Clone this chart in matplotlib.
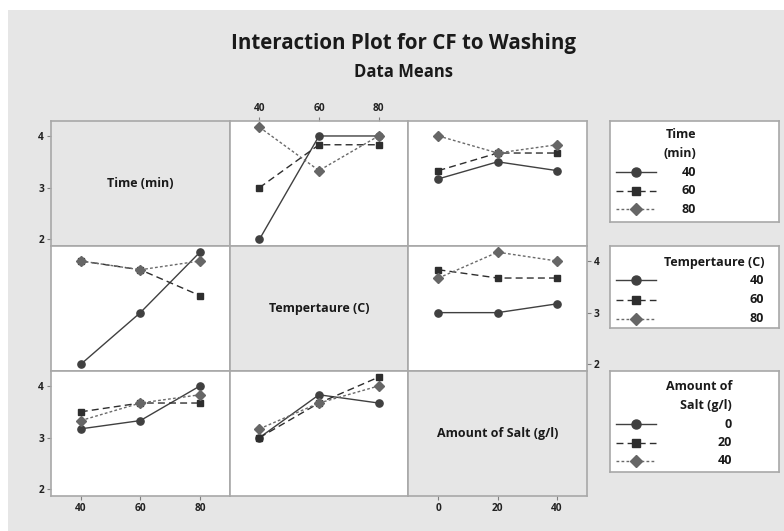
import matplotlib
matplotlib.use("Agg")
import matplotlib.pyplot as plt
from matplotlib.patches import Rectangle
from matplotlib.lines import Line2D

plt.rcParams['font.family'] = ['Open Sans', 'DejaVu Sans']

# ---------------- data ----------------
factors = ["Time (min)", "Tempertaure (C)", "Amount of Salt (g/l)"]
legend_titles = ["Time\n(min)", "Tempertaure (C)", "Amount of\nSalt (g/l)"]
time_levels = [40, 60, 80]
temp_levels = [40, 60, 80]
salt_levels = [0, 20, 40]

# x = Temperature, lines = Time
temp_by_time = [[2.0, 4.0, 4.0], [3.0, 3.83, 3.83], [4.17, 3.33, 4.0]]
# x = Salt, lines = Time
salt_by_time = [[3.17, 3.5, 3.33], [3.33, 3.67, 3.67], [4.0, 3.67, 3.83]]
# x = Time, lines = Temperature
time_by_temp = [[2.0, 3.0, 4.17], [4.0, 3.83, 3.33], [4.0, 3.83, 4.0]]
# x = Salt, lines = Temperature
salt_by_temp = [[3.0, 3.0, 3.17], [3.83, 3.67, 3.67], [3.67, 4.17, 4.0]]
# x = Time, lines = Salt
time_by_salt = [[3.17, 3.33, 4.0], [3.5, 3.67, 3.67], [3.33, 3.67, 3.83]]
# x = Temperature, lines = Salt
temp_by_salt = [[3.0, 3.83, 3.67], [3.0, 3.67, 4.17], [3.17, 3.67, 4.0]]

levels = [time_levels, temp_levels, salt_levels]
panels = {(0, 1): temp_by_time, (0, 2): salt_by_time,
          (1, 0): time_by_temp, (1, 2): salt_by_temp,
          (2, 0): time_by_salt, (2, 1): temp_by_salt}
y_ticks = [2, 3, 4]

# ---------------- styles ----------------
W, H = 784, 531
BG = '#e6e6e6'
EDGE = '#a8a8a8'
TXT = '#1a1a1a'
LBL_FS = 9.0
styles = [
    dict(color='#404040', ls='-', marker='o', ms=5.2, mfc='#404040', mec='#404040', lw=1.0),
    dict(color='#2e2e2e', ls=(0, (5, 3)), marker='s', ms=4.6, mfc='#2e2e2e', mec='#2e2e2e', lw=1.0),
    dict(color='#6a6a6a', ls=(0, (2, 1.6)), marker='D', ms=4.6, mfc='#666666', mec='#666666', lw=1.0),
]

fig = plt.figure(figsize=(W / 100, H / 100), dpi=100)
fig.patch.set_facecolor('white')
fig.add_artist(Rectangle((8 / W, 0), (W - 8) / W, (H - 10) / H,
                         transform=fig.transFigure, facecolor=BG,
                         edgecolor='none', zorder=0))


def px_axes(x0, y0, x1, y1):
    return fig.add_axes([x0 / W, 1 - y1 / H, (x1 - x0) / W, (y1 - y0) / H])


xe = [51, 229.7, 408.3, 587]
ye = [121, 246, 371, 496]
xlims = [(30, 90), (30, 90), (-10.2, 50.2)]
ylim = (1.87, 4.29)

tick_kw = dict(length=3, width=0.8, color='#808080', labelsize=7.3,
               labelcolor='#222222', pad=2)

for i in range(3):
    for j in range(3):
        ax = px_axes(xe[j], ye[i], xe[j + 1], ye[i + 1])
        ax.set_xlim(*xlims[j])
        ax.set_ylim(*ylim)
        for s in ax.spines.values():
            s.set_color(EDGE)
            s.set_linewidth(1.2)
        ax.tick_params(axis='both', which='both', left=False, right=False,
                       top=False, bottom=False, labelleft=False,
                       labelright=False, labeltop=False, labelbottom=False)
        ax.set_xticks(levels[j])
        ax.set_yticks(y_ticks)
        if i == j:
            ax.set_facecolor(BG)
            ax.text(0.5, 0.5, factors[i], transform=ax.transAxes,
                    ha='center', va='center', fontsize=LBL_FS,
                    fontweight='bold', color=TXT)
        else:
            ax.set_facecolor('white')
            data = panels[(i, j)]
            for k, row in enumerate(data):
                ax.plot(levels[j], row, **styles[k], zorder=3 + k,
                        clip_on=False)
        # ticks in Minitab style
        if j == 0 and i in (0, 2):
            ax.tick_params(axis='y', left=True, labelleft=True, **tick_kw)
        if j == 2 and i == 1:
            ax.tick_params(axis='y', right=True, labelright=True, **tick_kw)
        if i == 0 and j == 1:
            ax.tick_params(axis='x', top=True, labeltop=True, **tick_kw)
        if i == 2 and j in (0, 2):
            ax.tick_params(axis='x', bottom=True, labelbottom=True, **tick_kw)
        for lab in ax.get_xticklabels() + ax.get_yticklabels():
            lab.set_fontweight('bold')

# ---------------- titles ----------------
fig.text(404 / W, 1 - 44 / H, "Interaction Plot for CF to Washing",
         ha='center', va='center', fontsize=14.8, fontweight='bold', color=TXT)
fig.text(404 / W, 1 - 72 / H, "Data Means",
         ha='center', va='center', fontsize=12, fontweight='bold', color=TXT)

# ---------------- legends ----------------
leg_boxes = [(121, 222), (246, 328), (371, 472)]
label_right = [696, 764, 732]
title_rows = [[135, 154], [262.5], [387, 405.5]]
item_rows = [[172.5, 191, 209.5], [280, 299.5, 318.5], [424, 443, 461]]
leg_labels = [time_levels, temp_levels, salt_levels]
lx0, lx1 = 610, 779
for n in range(3):
    y0, y1 = leg_boxes[n]
    lax = px_axes(lx0, y0, lx1, y1)
    lax.set_xlim(lx0, lx1)
    lax.set_ylim(y1, y0)
    lax.set_facecolor('white')
    lax.set_xticks([])
    lax.set_yticks([])
    for s in lax.spines.values():
        s.set_color(EDGE)
        s.set_linewidth(1.2)
    for t, ty in zip(legend_titles[n].split("\n"), title_rows[n]):
        lax.text(label_right[n], ty, t, ha='right', va='center',
                 fontsize=LBL_FS, fontweight='bold', color=TXT)
    for k, ty in enumerate(item_rows[n]):
        st = dict(styles[k])
        lax.add_line(Line2D([616, 656], [ty, ty], color=st['color'],
                            ls=st['ls'], lw=st['lw']))
        lax.add_line(Line2D([636], [ty], ls='none', marker=st['marker'],
                            ms=st['ms'] * 1.25, mfc=st['mfc'], mec=st['mec']))
        lax.text(label_right[n], ty, str(leg_labels[n][k]), ha='right',
                 va='center', fontsize=LBL_FS, fontweight='bold',
                 color=TXT)

fig.savefig("out.png", dpi=100)
